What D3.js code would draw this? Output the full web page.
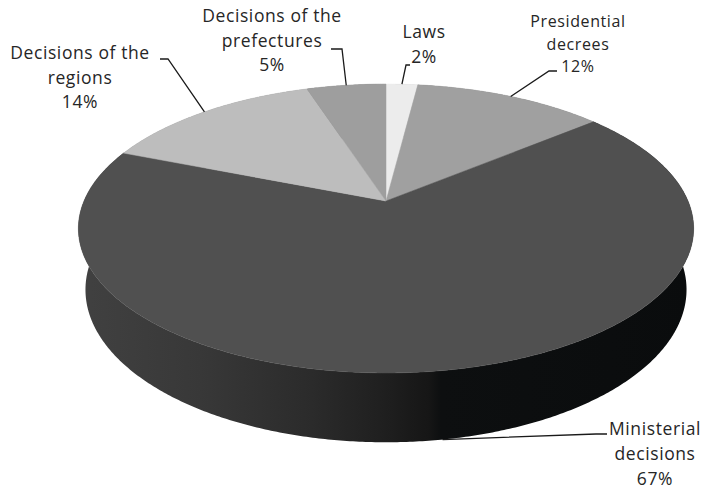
<!DOCTYPE html>
<html><head><meta charset="utf-8">
<script src="https://cdn.jsdelivr.net/npm/d3@7"></script>
<style>html,body{margin:0;padding:0;background:#fff;}svg{display:block;}</style>
</head><body>
<svg id="chart" width="708" height="489"></svg>
<script>
// ---- data ----
const categories = ["Laws", "Presidential\ndecrees", "Ministerial\ndecisions", "Decisions of the\nregions", "Decisions of the\nprefectures"];
const values = [2, 12, 67, 14, 5];
const topColors = ["#ececec", "#a0a0a0", "#505050", "#bdbdbd", "#9e9e9e"];
const sideColors = ["#bdbdbd", "#707070", "url(#sideGrad)", "#8a8a8a", "#6e6e6e"];

// ---- layout constants (3D perspective projection) ----
const W = 708, H = 489;
const P = {cx: 386, cy: 201, s: 302, sinA: 0.461, cosA: 0.887, f: 4.66, depth: 0.23};
// label layout: text centre x, first baseline y, line step, font size, leader elbow points
const labelLayout = [
  {x: 424, y: 38, dy: 25, fs: 17.5, elbow: [[406, 65], [410, 65]], rim: "top"},
  {x: 578, y: 27, dy: 22.5, fs: 16, elbow: [[549, 71], [557, 71]], rim: "top"},
  {x: 655, y: 435, dy: 25, fs: 17.5, elbow: [[596, 434], [607, 434]], rim: "bottom"},
  {x: 80, y: 59, dy: 24.5, fs: 17.5, elbow: [[168, 59], [160, 59]], rim: "top"},
  {x: 272, y: 22, dy: 24.5, fs: 17.5, elbow: [[342, 49], [331, 49]], rim: "top"}
];

function proj(theta, r, h) {
  const x3 = r * Math.sin(theta), z3 = -r * Math.cos(theta), y3 = h;
  const up = -z3 * P.sinA + y3 * P.cosA;
  const dep = z3 * P.cosA + y3 * P.sinA;
  const sc = P.f / (P.f - dep);
  return [P.cx + P.s * x3 * sc, P.cy - P.s * up * sc];
}

const svg = d3.select("#chart");
const defs = svg.append("defs");
const grad = defs.append("linearGradient").attr("id", "sideGrad")
  .attr("gradientUnits", "userSpaceOnUse").attr("x1", 77).attr("x2", 694).attr("y1", 0).attr("y2", 0);
[[0, "#414141"], [0.2, "#383838"], [0.38, "#2b2b2b"], [0.5, "#1f1f1f"], [0.57, "#161616"], [0.59, "#0d0f10"], [1, "#0a0c0d"]]
  .forEach(([o, c]) => grad.append("stop").attr("offset", o).attr("stop-color", c));

const pie = d3.pie().sort(null).startAngle(0).endAngle(2 * Math.PI);
const arcs = pie(values);
const line = d3.line();
const step = Math.PI / 360;

function arcPts(a0, a1, h) {
  const pts = [];
  const n = Math.max(2, Math.ceil((a1 - a0) / step));
  for (let i = 0; i <= n; i++) pts.push(proj(a0 + (a1 - a0) * i / n, 1, h));
  return pts;
}

const g = svg.append("g");
// sides
arcs.forEach((a, i) => {
  const top = arcPts(a.startAngle, a.endAngle, 0);
  const bot = arcPts(a.startAngle, a.endAngle, -P.depth).reverse();
  g.append("path").attr("d", line(top.concat(bot)) + "Z")
    .attr("fill", sideColors[i]).attr("stroke", "none");
});
// top faces
arcs.forEach((a, i) => {
  const pts = [proj(0, 0, 0)].concat(arcPts(a.startAngle, a.endAngle, 0));
  g.append("path").attr("d", line(pts) + "Z")
    .attr("fill", topColors[i]).attr("stroke", topColors[i]).attr("stroke-width", 0.5);
});

// labels + leaders
const lab = svg.append("g").attr("font-family", "'Open Sans', sans-serif").attr("fill", "#262626");
arcs.forEach((a, i) => {
  const L = labelLayout[i];
  const mid = (a.startAngle + a.endAngle) / 2;
  const anchor = proj(mid, 1, L.rim === "top" ? 0 : -P.depth);
  lab.append("path").attr("d", line([anchor].concat(L.elbow)))
    .attr("fill", "none").attr("stroke", "#1a1a1a").attr("stroke-width", 1.3);
  const lines = categories[i].split("\n").concat([values[i] + "%"]);
  const t = lab.append("text").attr("text-anchor", "middle").attr("font-size", L.fs)
    .attr("letter-spacing", 0.6);
  lines.forEach((s, k) => t.append("tspan").attr("x", L.x).attr("y", L.y + k * L.dy).text(s));
});
</script>
</body></html>
